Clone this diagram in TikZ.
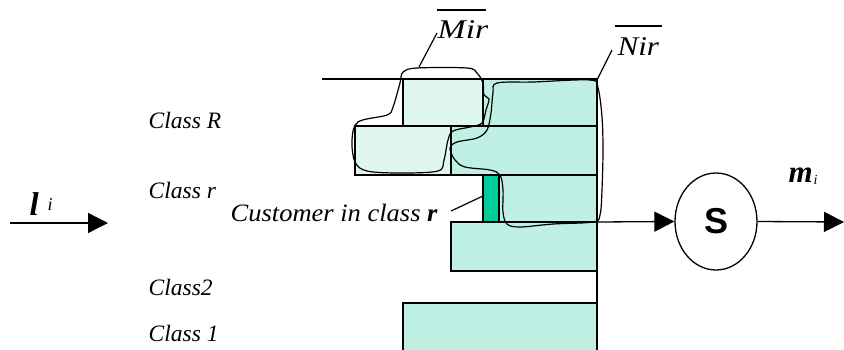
\documentclass[tikz,border=0pt]{standalone}
\usepackage{fontspec}
\usepackage{graphicx}
\setmainfont{Liberation Serif}
\newfontfamily\sansbold{Liberation Sans}
\usetikzlibrary{arrows.meta,shapes.geometric}
\definecolor{lightq}{HTML}{E0F7F0}
\definecolor{midq}{HTML}{BFF0E3}
\definecolor{custg}{HTML}{00CC99}
\begin{document}
\begin{tikzpicture}[x=1pt,y=-1pt,line width=1.3pt,
  lbl/.style={font=\fontsize{23.5}{26}\selectfont\itshape,anchor=west,inner sep=0pt},
  arr/.style={-{Triangle[length=20pt,width=20pt]}},
  blob/.style={line width=1.2pt},
  lead/.style={line width=1.2pt},
  bar/.style={line width=1.1pt}]
\useasboundingbox (0,0) rectangle (844,349);
% queue blocks
\filldraw[fill=lightq] (403,79) rectangle (483,126);
\filldraw[fill=midq] (483,79) rectangle (597,126);
\filldraw[fill=lightq] (355,126) rectangle (451,175);
\filldraw[fill=midq] (451,126) rectangle (597,175);
\filldraw[fill=custg] (483,175) rectangle (499,222);
\filldraw[fill=midq] (499,175) rectangle (597,222);
\filldraw[fill=midq] (451,222) rectangle (597,271);
\filldraw[fill=midq] (403,303) rectangle (597,360);
% frame lines
\coordinate (topl) at (322,79);
\coordinate (topr) at (597,79);
\coordinate (bot) at (597,352);
\coordinate (qout) at (597,222);
\draw (topl) -- (topr) -- (bot);
% blobs
\draw[blob] plot[smooth cycle,tension=0.55] coordinates {
 (403,72) (417,68) (467,68) (477,73) (483,83) (484,95) (489,99) (486,110)
 (482,123) (470,127) (453,131) (448,140) (444,160) (438,171) (400,173)
 (367,171) (355,162) (352,140) (358,122) (387,115) (393,107) (400,83)};
\draw[blob] plot[smooth cycle,tension=0.55] coordinates {
 (497,83) (533,82) (590,80) (598,88) (602,117) (603,150) (602,190)
 (600,215) (593,222) (553,224) (520,227) (507,224) (503,212) (503,190)
 (500,175) (490,170) (465,167) (455,160) (450,148) (457,142) (477,138)
 (487,130) (491,113) (493,93)};
% server
\node[ellipse,draw,minimum width=82pt,minimum height=97pt,inner sep=0pt] (S) at (716,221.5)
  {\sansbold\bfseries\fontsize{36}{40}\selectfont S};
\coordinate (out) at (844,222);
\draw[arr] (qout) -- (S.west);
\draw[arr] (S.east) -- (out);
% input
\coordinate (in0) at (10,223);
\coordinate (in1) at (108,223);
\draw[arr] (in0) -- (in1);
\node[anchor=base west,inner sep=0pt,font=\fontsize{33}{34}\selectfont\bfseries\itshape] (lam) at (29,215) {l};
\node[anchor=base west,inner sep=0pt,font=\fontsize{18}{18}\selectfont\itshape] (lami) at (47,210) {i};
\node[anchor=base west,inner sep=0pt,font=\fontsize{31}{32}\selectfont\bfseries\itshape] (mu) at (788,182) {m};
\node[anchor=base west,inner sep=0pt,font=\fontsize{14}{16}\selectfont\itshape] (mui) at (813,184) {i};
% class labels
\node[lbl] (cR) at (148,120) {Class R};
\node[lbl] (cr) at (148,190) {Class r};
\node[lbl] (c2) at (148,287) {Class2};
\node[lbl] (c1) at (148,333) {Class 1};
\node[lbl,font=\fontsize{25}{28}\selectfont\itshape] (cust) at (230,213) {\scalebox{1.06}[1]{Customer in class \textbf{r}}};
\coordinate (custA) at (451,211);
\coordinate (custB) at (483,196);
\draw[lead] (custA) -- (custB);
% Mir / Nir labels
\node[anchor=base west,inner sep=0pt,font=\fontsize{27}{28}\selectfont\itshape] (mir) at (437,38) {\scalebox{1.25}[1]{Mir}};
\draw[bar] (437,10) -- (486,10);
\coordinate (mirA) at (419,67);
\coordinate (mirB) at (437,33);
\draw[lead] (mirA) -- (mirB);
\node[anchor=base west,inner sep=0pt,font=\fontsize{27}{28}\selectfont\itshape] (nir) at (617,55) {\scalebox{1.15}[1]{Nir}};
\draw[bar] (615,26) -- (662,26);
\coordinate (nirA) at (597,80);
\coordinate (nirB) at (612,50);
\draw[lead] (nirA) -- (nirB);
\end{tikzpicture}
\end{document}
